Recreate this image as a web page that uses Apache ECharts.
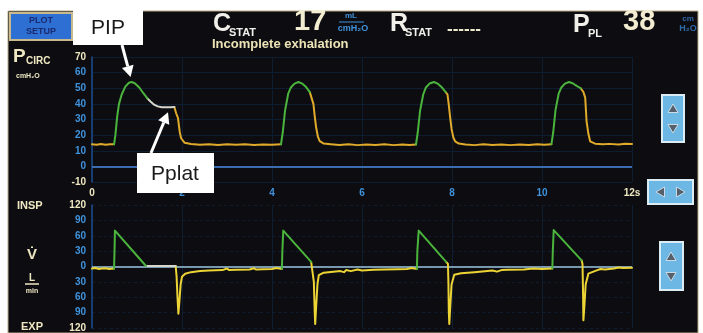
<!DOCTYPE html>
<html><head><meta charset="utf-8">
<script src="https://cdn.jsdelivr.net/npm/echarts@6/dist/echarts.min.js"></script>
<style>html,body{margin:0;padding:0;background:#fff;}#c{width:703px;height:333px;}</style>
</head><body><div id="c"></div>
<script>
// ---- axes ----
const timeRange = [0, 12];        // seconds
const pressureRange = [-10, 70];  // cmH2O
const flowRange = [-120, 120];    // L/min

// ---- pressure (t [s], cmH2O) ----
const pressureInspiration = [
  [[0.49,14.1],[0.52,20],[0.56,32],[0.6,40],[0.66,46],[0.74,51],[0.82,53.5],[0.88,54],[0.95,53.2],[1.05,50.5],[1.15,46.5],[1.23,43.5]],
  [[4.2,14.1],[4.24,22],[4.29,35.7],[4.36,46.5],[4.42,50.5],[4.5,53],[4.59,54],[4.67,53],[4.75,51],[4.84,47.5]],
  [[7.2,14],[7.24,22],[7.29,35.5],[7.36,46],[7.42,50.5],[7.5,53],[7.6,54],[7.68,53],[7.76,51],[7.86,47.5]],
  [[10.21,14.2],[10.25,22],[10.3,36],[10.37,46.5],[10.43,50.5],[10.51,53],[10.6,54],[10.68,53.2],[10.77,51.5],[10.86,50]]
];
const pressureHold = [
  [[1.23,43.5],[1.3,41.5],[1.38,39.5],[1.46,38.4],[1.55,37.9],[1.65,37.8],[1.75,37.9],[1.83,38]]
];
const pressureExpiration = [
  [[0,14.2],[0.1,13.8],[0.2,14.3],[0.3,13.9],[0.4,14.2],[0.49,14.1]],
  [[1.83,38],[1.87,34],[1.91,31],[1.95,22],[1.98,18],[2.06,15.1],[2.2,14.3],[2.4,13.8],[2.6,14.2],[2.8,13.7],[3.0,14.1],[3.2,13.8],[3.4,14.2],[3.6,13.7],[3.8,14],[4.0,13.8],[4.2,14.1]],
  [[4.84,47.5],[4.88,46.5],[4.92,40],[4.95,32],[4.98,25],[5.02,19],[5.06,16.2],[5.15,14.6],[5.3,14.2],[5.5,13.7],[5.7,14.1],[5.9,13.6],[6.1,14],[6.3,13.7],[6.5,14.1],[6.7,13.6],[6.9,14],[7.05,13.7],[7.2,14]],
  [[7.86,47.5],[7.9,46],[7.93,39],[7.96,31],[7.99,24],[8.03,18.5],[8.07,16],[8.15,14.6],[8.3,14],[8.5,13.6],[8.7,14.1],[8.9,13.7],[9.1,14],[9.3,13.6],[9.5,14],[9.7,13.7],[9.9,14.1],[10.05,13.8],[10.21,14.2]],
  [[10.86,50],[10.92,47.6],[10.96,44],[10.99,29],[11.03,21],[11.07,16],[11.18,14.5],[11.35,14.1],[11.5,14.4],[11.7,14],[11.85,14.5],[12,14.3]]
];

// ---- flow (t [s], L/min) ----
const flowInspiration = [
  [[0.49,-4],[0.5,30],[0.51,70],[1.2,1]],
  [[4.22,-5],[4.23,30],[4.25,70],[4.87,9]],
  [[7.22,-5],[7.23,30],[7.26,70],[7.87,9]],
  [[10.23,-4],[10.24,30],[10.26,71],[10.88,12]]
];
const flowHold = [
  [[1.2,1],[1.86,1]]
];
const flowExpiration = [
  [[0,-4],[0.08,-3],[0.15,-5],[0.22,-4],[0.3,-3.5],[0.38,-5],[0.49,-4]],
  [[1.86,1],[1.88,-20],[1.9,-60],[1.92,-92],[1.94,-70],[1.97,-35],[2.0,-20],[2.07,-14],[2.2,-11],[2.4,-9],[2.6,-8],[2.9,-7],[3.0,-4],[3.05,-7],[3.2,-6.5],[3.5,-6],[3.6,-3.5],[3.65,-6],[3.8,-5.5],[4.0,-5],[4.1,-3],[4.22,-5]],
  [[4.87,9],[4.91,6],[4.93,-30],[4.95,-90],[4.96,-112],[4.98,-80],[5.01,-35],[5.04,-17],[5.15,-12],[5.52,-9],[5.6,-11],[5.65,-7],[5.75,-9],[5.9,-6],[6.0,-8],[6.26,-6.5],[6.5,-6],[6.8,-5.5],[7.0,-5],[7.1,-3],[7.22,-5]],
  [[7.87,9],[7.91,5],[7.92,-30],[7.93,-90],[7.94,-112],[7.96,-80],[7.99,-35],[8.05,-16],[8.2,-13],[8.5,-11],[8.9,-8],[9.0,-10],[9.1,-7],[9.24,-6.5],[9.6,-6],[9.8,-4],[10.0,-5],[10.23,-4]],
  [[10.88,12],[10.9,5],[10.91,-40],[10.92,-105],[10.94,-80],[10.97,-35],[11.03,-14],[11.2,-8],[11.3,-5],[11.4,-6],[11.6,-4],[11.7,-2],[11.8,-3],[12,-2.5]]
];

// ---- annotation anchor points (data coords) ----
const pipPoint = [0.88, 54];
const pplatPoint = [1.6, 37.8];

const GREEN = '#4bb43c', YEL_P = '#e0aa2a', YEL_F = '#ecd435', HOLD = '#d6d6cc';
const CREAM = '#efe7c2', BLUE = '#3f92dc';
const FONT = '"Liberation Sans Narrow","Liberation Sans","DejaVu Sans",sans-serif';

function segSeries(segs, color, xi, yi, w) {
  return segs.map(d => ({
    type: 'line', xAxisIndex: xi, yAxisIndex: yi, data: d, showSymbol: false,
    lineStyle: { color: color, width: w, join: 'round', cap: 'round' },
    silent: true, animation: false, z: 5
  }));
}

const chart = echarts.init(document.getElementById('c'), null, { renderer: 'canvas' });

const labelRich = {
  b: { color: BLUE, fontWeight: 'bold', fontSize: 10, fontFamily: FONT },
  w: { color: CREAM, fontWeight: 'bold', fontSize: 10, fontFamily: FONT }
};
const gridLine = { show: true, lineStyle: { color: '#0f1d31', width: 1 } };

const series = [].concat(
  segSeries(pressureExpiration, YEL_P, 0, 0, 2),
  segSeries(pressureHold, HOLD, 0, 0, 2),
  segSeries(pressureInspiration, GREEN, 0, 0, 2),
  segSeries(flowExpiration, YEL_F, 1, 1, 2),
  segSeries(flowHold, HOLD, 1, 1, 2),
  segSeries(flowInspiration, GREEN, 1, 1, 2)
);
// zero lines
series.push({ type: 'line', xAxisIndex: 0, yAxisIndex: 0, data: [], z: 3,
  markLine: { silent: true, symbol: 'none', label: { show: false }, animation: false,
    lineStyle: { color: '#3b6cb0', width: 2, type: 'solid' }, data: [{ yAxis: 0 }] } });
series.push({ type: 'line', xAxisIndex: 1, yAxisIndex: 1, data: [], z: 3,
  markLine: { silent: true, symbol: 'none', label: { show: false }, animation: false,
    lineStyle: { color: '#9cc6e2', width: 1.5, type: 'solid' }, data: [{ yAxis: 0 }] } });

function txt(x, y, text, size, color, align, weight, family, z) {
  return { type: 'text', z: z || 55, style: { x: x, y: y, text: text, fill: color,
    font: (weight || 'bold') + ' ' + size + 'px ' + (family || FONT),
    textAlign: align || 'left', textVerticalAlign: 'middle' } };
}
function tri(cx, cy, dir, s) {
  let p;
  if (dir === 'up') p = [[cx, cy - s], [cx - s, cy + s * 0.7], [cx + s, cy + s * 0.7]];
  else if (dir === 'down') p = [[cx, cy + s], [cx - s, cy - s * 0.7], [cx + s, cy - s * 0.7]];
  else if (dir === 'left') p = [[cx - s, cy], [cx + s * 0.7, cy - s], [cx + s * 0.7, cy + s]];
  else p = [[cx + s, cy], [cx - s * 0.7, cy - s], [cx - s * 0.7, cy + s]];
  return { type: 'polygon', z: 52, shape: { points: p }, style: { fill: '#56606c', stroke: '#c9dbe6', lineWidth: 1 } };
}
function btn(x, y, w, h) {
  return { type: 'rect', z: 51, shape: { x: x, y: y, width: w, height: h },
    style: { fill: '#6cb7e4', stroke: '#dcecf4', lineWidth: 2 } };
}

const baseGraphics = [
  { type: 'rect', z: -10, shape: { x: 8, y: 11, width: 690, height: 322 }, style: { fill: '#0d0d11', stroke: '#b9ab86', lineWidth: 1 } },
  // plot setup button
  { type: 'rect', z: 51, shape: { x: 10, y: 13, width: 62, height: 27 }, style: { fill: '#2e6fd4', stroke: '#c8b98e', lineWidth: 2 } },
  txt(41, 21, 'PLOT', 9, '#1b2a6e', 'center'),
  txt(41, 32, 'SETUP', 9, '#1b2a6e', 'center'),
  // header
  txt(213, 24, 'C', 25, '#f2f0ea'),
  txt(229, 33, 'STAT', 11, '#f2f0ea'),
  txt(294, 22, '17', 29, '#f2ecd0'),
  txt(351, 16, 'mL', 8, BLUE, 'center'),
  { type: 'line', z: 50, shape: { x1: 339, y1: 22, x2: 364, y2: 22 }, style: { stroke: BLUE, lineWidth: 1 } },
  txt(353, 29, 'cmH\u2082O', 9, BLUE, 'center'),
  txt(390, 24, 'R', 25, '#f2f0ea'),
  txt(405, 33, 'STAT', 11, '#f2f0ea'),
  txt(447, 29, '------', 17, '#eee8cc'),
  txt(573, 25, 'P', 25, '#f2f0ea'),
  txt(588, 34, 'PL', 11, '#f2f0ea'),
  txt(623, 22, '38', 29, '#f2ecd0'),
  txt(688, 19, 'cm', 8, '#2f6aa8', 'center'),
  txt(688, 29, 'H\u2082O', 9, '#2f6aa8', 'center'),
  txt(212, 44, 'Incomplete exhalation', 13, '#ece4b6'),
  // left labels
  txt(13, 57, 'P', 19, CREAM),
  txt(26, 61, 'CIRC', 10, CREAM),
  txt(16, 76, 'cmH\u2082O', 7, CREAM),
  txt(17, 206, 'INSP', 11, CREAM),
  txt(32, 255, 'V\u0307', 15, CREAM, 'center'),
  txt(32, 278, 'L', 10, CREAM, 'center'),
  { type: 'line', z: 50, shape: { x1: 25, y1: 284, x2: 39, y2: 284 }, style: { stroke: CREAM, lineWidth: 1.5 } },
  txt(32, 291, 'min', 7, CREAM, 'center'),
  txt(21, 327, 'EXP', 11, CREAM),
  // right buttons
  btn(662, 95, 22, 47), tri(673, 109, 'up', 5), tri(673, 128, 'down', 5),
  btn(648, 180, 45, 24), tri(661, 192, 'left', 5), tri(680, 192, 'right', 5),
  btn(660, 242, 23, 48), tri(671, 257, 'up', 5), tri(671, 276, 'down', 5)
];

chart.setOption({
  backgroundColor: '#ffffff',
  animation: false,
  grid: [
    { left: 92, right: 71, top: 57, height: 125 },
    { left: 92, right: 71, top: 205, height: 125 }
  ],
  xAxis: [
    { gridIndex: 0, type: 'value', min: timeRange[0], max: timeRange[1], interval: 2,
      axisLine: { show: false }, axisTick: { show: false }, splitLine: gridLine,
      axisLabel: { margin: 6, rich: labelRich,
        formatter: v => v === 0 ? '{w|0}' : (v === 12 ? '{w|12s}' : '{b|' + v + '}') } },
    { gridIndex: 1, type: 'value', min: timeRange[0], max: timeRange[1], interval: 2,
      axisLine: { show: false }, axisTick: { show: false }, splitLine: gridLine,
      axisLabel: { show: false } }
  ],
  yAxis: [
    { gridIndex: 0, type: 'value', min: pressureRange[0], max: pressureRange[1], interval: 10,
      axisLine: { show: true, lineStyle: { color: '#1d4c8e', width: 1.5 } }, axisTick: { show: false },
      splitLine: gridLine,
      axisLabel: { margin: 6, rich: labelRich,
        formatter: v => (v === 70 || v === -10) ? '{w|' + v + '}' : '{b|' + v + '}' } },
    { gridIndex: 1, type: 'value', min: flowRange[0], max: flowRange[1], interval: 30,
      axisLine: { show: true, lineStyle: { color: '#1d4c8e', width: 1.5 } }, axisTick: { show: false },
      splitLine: { show: true, lineStyle: { color: '#0f1d31', width: 1, type: [3, 3] } },
      axisLabel: { margin: 6, rich: labelRich,
        formatter: v => Math.abs(v) === 120 ? '{w|' + Math.abs(v) + '}' : '{b|' + Math.abs(v) + '}' } }
  ],
  series: series,
  graphic: { elements: baseGraphics }
});

// annotations placed at data points via the chart's scales
const pip = chart.convertToPixel({ gridIndex: 0 }, pipPoint);
const pplat = chart.convertToPixel({ gridIndex: 0 }, pplatPoint);
function arrow(x1, y1, x2, y2) {
  const a = Math.atan2(y2 - y1, x2 - x1), L = 11, W = 6;
  const bx = x2 - L * Math.cos(a), by = y2 - L * Math.sin(a);
  const px = -Math.sin(a) * W, py = Math.cos(a) * W;
  return [
    { type: 'line', z: 60, shape: { x1: x1, y1: y1, x2: bx, y2: by }, style: { stroke: '#ffffff', lineWidth: 3 } },
    { type: 'polygon', z: 60, shape: { points: [[x2, y2], [bx + px, by + py], [bx - px, by - py]] }, style: { fill: '#ffffff' } }
  ];
}
const ann = [
  { type: 'rect', z: 60, shape: { x: 73, y: 0, width: 70, height: 45 }, style: { fill: '#ffffff' } },
  txt(108, 28, 'PIP', 21, '#1a1a1a', 'center', 'normal', '"Liberation Sans",Arial,sans-serif', 61),
  { type: 'rect', z: 60, shape: { x: 137, y: 153, width: 77, height: 40 }, style: { fill: '#ffffff' } },
  txt(175, 174, 'Pplat', 21, '#1a1a1a', 'center', 'normal', '"Liberation Sans",Arial,sans-serif', 61)
].concat(arrow(122, 45, pip[0] - 1, pip[1] - 5), arrow(151, 153, pplat[0] + 4, pplat[1] + 5));
chart.setOption({ graphic: { elements: baseGraphics.concat(ann) } }, { replaceMerge: ['graphic'] });
</script>
</body></html>
